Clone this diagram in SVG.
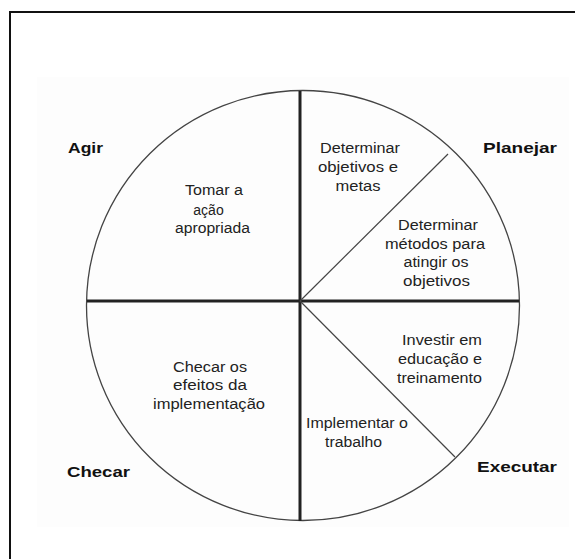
<svg xmlns="http://www.w3.org/2000/svg" width="575" height="559" viewBox="0 0 575 559">
  <style>
    .frame { fill: none; stroke: #111; stroke-width: 2; }
    .rim { fill: none; stroke: #444; stroke-width: 1.3; }
    .axis { stroke: #222; stroke-width: 3; }
    .split { stroke: #444; stroke-width: 1.2; }
    .body { font-family: "Liberation Sans", Arial, sans-serif; font-size: 14px; fill: #222; text-anchor: middle; }
    .phase { font-family: "Liberation Sans", Arial, sans-serif; font-size: 15px; font-weight: bold; fill: #111; }
  </style>

  <rect x="0" y="0" width="575" height="559" fill="#ffffff"/>
  <rect x="37" y="77" width="532" height="450" fill="#fdfdfd"/>
  <path class="frame" d="M10,559 V12 H575"/>

  <!-- PDCA wheel: rim, quadrant axes and sub-dividers -->
  <g id="connectors">
    <ellipse class="rim" cx="303" cy="305.5" rx="216.5" ry="215"/>
    <line class="axis" x1="300" y1="91" x2="300" y2="521"/>
    <line class="axis" x1="87" y1="301" x2="519" y2="301"/>
    <line class="split" x1="300" y1="301" x2="448" y2="154"/>
    <line class="split" x1="300" y1="301" x2="455" y2="457"/>
  </g>

  <!-- Phase labels -->
  <g id="agir-label"><text class="phase" x="68" y="153" textLength="35" lengthAdjust="spacingAndGlyphs">Agir</text></g>
  <g id="planejar-label"><text class="phase" x="483" y="153" textLength="74" lengthAdjust="spacingAndGlyphs">Planejar</text></g>
  <g id="executar-label"><text class="phase" x="477" y="472" textLength="80" lengthAdjust="spacingAndGlyphs">Executar</text></g>
  <g id="checar-label"><text class="phase" x="67" y="477" textLength="63" lengthAdjust="spacingAndGlyphs">Checar</text></g>

  <!-- Segment texts -->
  <g id="plan-goals">
    <text class="body" x="360" y="153" textLength="80" lengthAdjust="spacingAndGlyphs">Determinar</text>
    <text class="body" x="358" y="172" textLength="80" lengthAdjust="spacingAndGlyphs">objetivos e</text>
    <text class="body" x="358" y="191" textLength="45" lengthAdjust="spacingAndGlyphs">metas</text>
  </g>
  <g id="plan-methods">
    <text class="body" x="438" y="229.5" textLength="80" lengthAdjust="spacingAndGlyphs">Determinar</text>
    <text class="body" x="435" y="248.5" textLength="100" lengthAdjust="spacingAndGlyphs">métodos para</text>
    <text class="body" x="436" y="267" textLength="65" lengthAdjust="spacingAndGlyphs">atingir os</text>
    <text class="body" x="436.5" y="286" textLength="67" lengthAdjust="spacingAndGlyphs">objetivos</text>
  </g>
  <g id="do-training">
    <text class="body" x="442" y="345" textLength="80" lengthAdjust="spacingAndGlyphs">Investir em</text>
    <text class="body" x="440" y="364" textLength="84" lengthAdjust="spacingAndGlyphs">educação e</text>
    <text class="body" x="439.5" y="383" textLength="85" lengthAdjust="spacingAndGlyphs">treinamento</text>
  </g>
  <g id="do-work">
    <text class="body" x="357" y="428" textLength="102" lengthAdjust="spacingAndGlyphs">Implementar o</text>
    <text class="body" x="353.5" y="446.5" textLength="57" lengthAdjust="spacingAndGlyphs">trabalho</text>
  </g>
  <g id="check-effects">
    <text class="body" x="210" y="371.5" textLength="74" lengthAdjust="spacingAndGlyphs">Checar os</text>
    <text class="body" x="210" y="390" textLength="74" lengthAdjust="spacingAndGlyphs">efeitos da</text>
    <text class="body" x="209" y="408.5" textLength="112" lengthAdjust="spacingAndGlyphs">implementação</text>
  </g>
  <g id="act-correct">
    <text class="body" x="214" y="195" textLength="58" lengthAdjust="spacingAndGlyphs">Tomar a</text>
    <text class="body" x="208.5" y="214.5">ação</text>
    <text class="body" x="212.5" y="233" textLength="75" lengthAdjust="spacingAndGlyphs">apropriada</text>
  </g>
</svg>
